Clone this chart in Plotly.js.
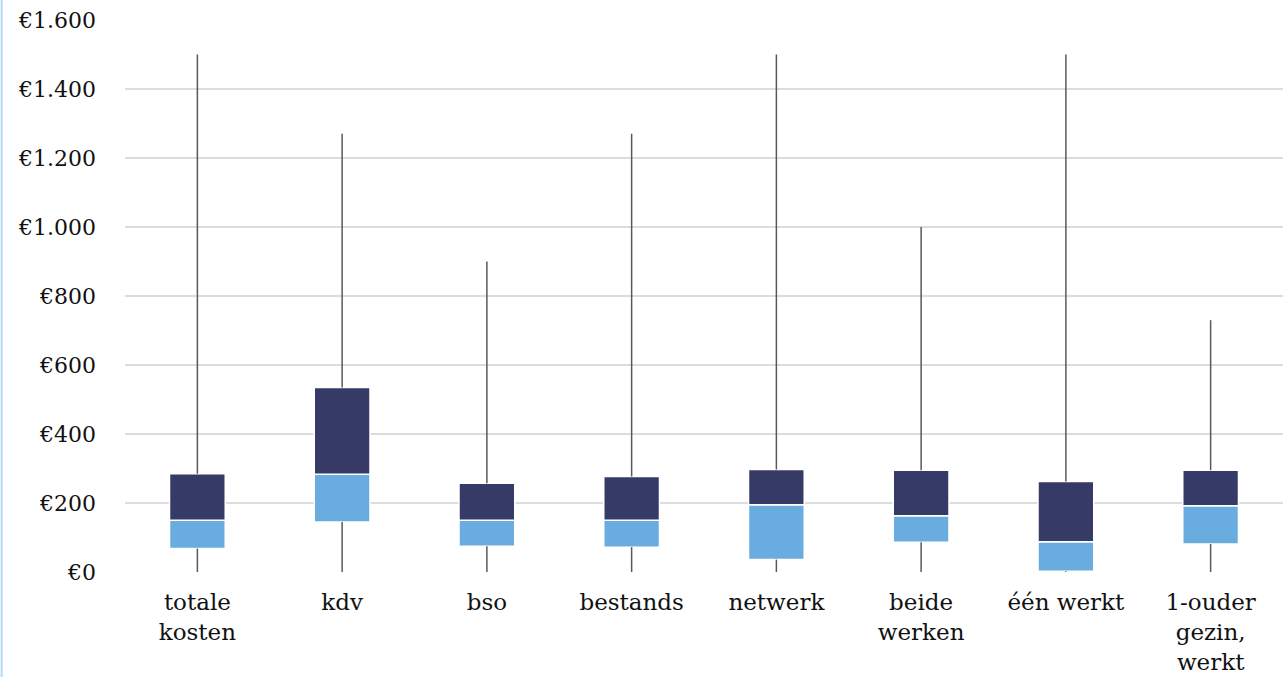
<!DOCTYPE html>
<html>
<head>
<meta charset="utf-8">
<script src="https://cdn.plot.ly/plotly-3.0.1.min.js"></script>
<style>
  html, body { margin: 0; padding: 0; background: #ffffff; }
  #chart { width: 1287px; height: 677px; }
</style>
</head>
<body>
<div id="chart"></div>
<script>
const categories = ["totale<br>kosten", "kdv", "bso", "bestands", "netwerk", "beide<br>werken", "één werkt", "1-ouder<br>gezin,<br>werkt"];
const minValues    = [0, 0, 0, 0, 0, 0, 0, 0];
const q1Values     = [68, 145, 75, 72, 36, 86, 2, 81];
const medianValues = [150, 283, 150, 150, 195, 163, 88, 192];
const q3Values     = [285, 535, 257, 277, 297, 295, 262, 295];
const maxValues    = [1500, 1270, 900, 1270, 1500, 1000, 1500, 730];
const yTickValues  = [0, 200, 400, 600, 800, 1000, 1200, 1400, 1600];
const yTickLabels  = ["€0", "€200", "€400", "€600", "€800", "€1.000", "€1.200", "€1.400", "€1.600"];

// whisker segments: min -> Q1 and Q3 -> max
const wx = [], wy = [];
categories.forEach((c, i) => {
  wx.push(c, c, null, c, c, null);
  wy.push(minValues[i], q1Values[i], null, q3Values[i], maxValues[i], null);
});

const traces = [
  {
    type: "bar",
    x: categories,
    base: q1Values,
    y: q1Values.map((q, i) => medianValues[i] - q),
    width: 0.385,
    marker: { color: "#69ADE0", line: { color: "#ffffff", width: 1.5 } },
    hoverinfo: "skip",
    showlegend: false
  },
  {
    type: "bar",
    x: categories,
    base: medianValues,
    y: medianValues.map((m, i) => q3Values[i] - m),
    width: 0.385,
    marker: { color: "#363A66", line: { color: "#ffffff", width: 1.5 } },
    hoverinfo: "skip",
    showlegend: false
  },
  {
    type: "scatter",
    mode: "lines",
    x: wx,
    y: wy,
    line: { color: "#595959", width: 1.5 },
    connectgaps: false,
    hoverinfo: "skip",
    showlegend: false
  }
];

const layout = {
  width: 1287,
  height: 677,
  margin: { l: 124.5, r: 3.5, t: 20, b: 105, pad: 0 },
  paper_bgcolor: "#ffffff",
  plot_bgcolor: "#ffffff",
  barmode: "overlay",
  showlegend: false,
  font: { family: "DejaVu Serif, Liberation Serif, serif", size: 23, color: "#111111" },
  xaxis: {
    type: "category",
    categoryorder: "array",
    categoryarray: categories,
    showgrid: false,
    showline: false,
    zeroline: false,
    ticks: "",
    ticklabelstandoff: 14,
    tickfont: { size: 23, color: "#111111" },
    fixedrange: true
  },
  yaxis: {
    range: [0, 1600],
    tickvals: yTickValues,
    ticktext: yTickLabels,
    showgrid: true,
    gridcolor: "#DCDCDC",
    gridwidth: 2,
    zeroline: false,
    showline: false,
    ticks: "",
    ticklabelstandoff: 28,
    tickfont: { size: 22, color: "#111111" },
    fixedrange: true
  },
  shapes: [
    {
      type: "line",
      xref: "paper", yref: "paper",
      x0: -123.5 / 1159, x1: -123.5 / 1159,
      y0: -105 / 552, y1: 1 + 20 / 552,
      line: { color: "#B3D9F5", width: 2 }
    }
  ]
};

Plotly.newPlot("chart", traces, layout, { displayModeBar: false, staticPlot: true });
</script>
</body>
</html>
